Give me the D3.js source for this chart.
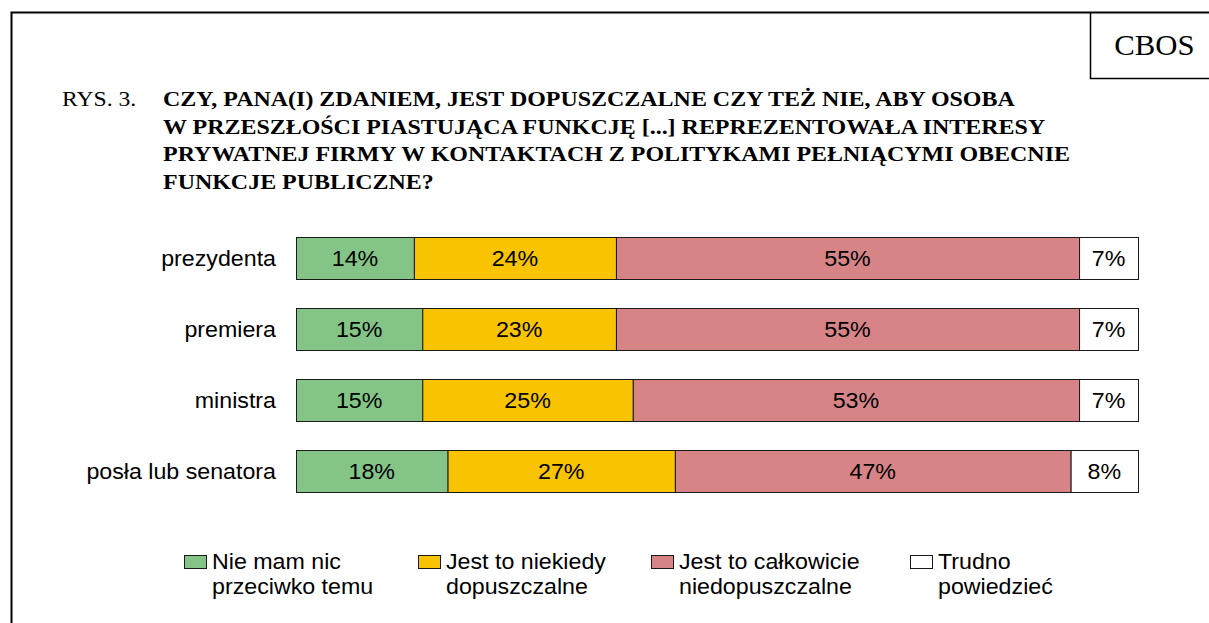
<!DOCTYPE html>
<html>
<head>
<meta charset="utf-8">
<script src="https://cdn.jsdelivr.net/npm/d3@7"></script>
<style>
  body { margin: 0; background: #fff; }
  svg { display: block; }
</style>
</head>
<body>
<svg id="body" width="1209" height="623"></svg>
<script>
let svg = d3.select("#body");

// data
let categories = ["prezydenta", "premiera", "ministra", "posła lub senatora"];
let answers = ["Nie mam nic przeciwko temu", "Jest to niekiedy dopuszczalne",
               "Jest to całkowicie niedopuszczalne", "Trudno powiedzieć"];
let legendLines = [["Nie mam nic", "przeciwko temu"], ["Jest to niekiedy", "dopuszczalne"],
                   ["Jest to całkowicie", "niedopuszczalne"], ["Trudno", "powiedzieć"]];
let nieMam = [14, 15, 15, 18];
let niekiedy = [24, 23, 25, 27];
let calkowicie = [55, 55, 53, 47];
let trudno = [7, 7, 7, 8];
let colors = ["#84c487", "#f8c300", "#d78486", "#ffffff"];

let titleLines = ["CZY, PANA(I) ZDANIEM, JEST DOPUSZCZALNE CZY TEŻ NIE, ABY OSOBA",
                  "W PRZESZŁOŚCI PIASTUJĄCA FUNKCJĘ [...] REPREZENTOWAŁA INTERESY",
                  "PRYWATNEJ FIRMY W KONTAKTACH Z POLITYKAMI PEŁNIĄCYMI OBECNIE",
                  "FUNKCJE PUBLICZNE?"];

// the original picture is a bit wider than tall, so text gets stretched
let sansFont = "Liberation Sans, Arial, sans-serif";
let serifFont = "Liberation Serif, Times New Roman, serif";
let sansSize = "21.5px", sansStretch = 1.08;
let pos = (px, py, s) => "translate(" + px + "," + py + ") scale(" + s + ",1)";

// frame
svg.append("path")
   .attr("d", "M11.5,623 V12.5 H1209")
   .attr("fill", "none").attr("stroke", "#000").attr("stroke-width", 2);
svg.append("path")
   .attr("d", "M1090.5,12 V78.5 H1209")
   .attr("fill", "none").attr("stroke", "#000").attr("stroke-width", 1.5);
svg.append("text")
   .attr("transform", pos(1154.5, 54.5, 1.06))
   .attr("text-anchor", "middle")
   .style("font-family", serifFont)
   .style("font-size", "29px")
   .text("CBOS");

// title
svg.append("text")
   .attr("transform", pos(62, 106, 1.1))
   .style("font-family", serifFont)
   .style("font-size", "21.5px")
   .text("RYS. 3.");
svg.append("g").selectAll("text")
   .data(titleLines)
   .enter()
   .append("text")
   .attr("transform", (d, i) => pos(163, 106 + i * 27.7, 1.115))
   .style("font-family", serifFont)
   .style("font-size", "21.5px")
   .style("font-weight", "bold")
   .text(d => d);

// stacked data
let rows = categories.map((c, i) => ({
  cat: c, values: [nieMam[i], niekiedy[i], calkowicie[i], trudno[i]]
}));
rows.forEach(r => {
  let acc = 0;
  r.segs = r.values.map((v, k) => {
    let s = {cat: r.cat, k: k, v: v, x0: acc, x1: acc + v};
    acc += v;
    return s;
  });
});

let x = d3.scaleLinear().domain([0, 100]).range([296, 1138]);
let y = d3.scaleBand().domain(categories).range([222.8, 506.2])
          .paddingInner(0.408).paddingOuter(0.2);

let rowG = svg.selectAll("g.row")
   .data(rows)
   .enter()
   .append("g")
   .attr("class", "row");

rowG.selectAll("rect")
   .data(d => d.segs)
   .enter()
   .append("rect")
   .attr("x", d => x(d.x0) + 0.5)
   .attr("y", d => Math.round(y(d.cat)) + 0.5)
   .attr("width", d => x(d.x1) - x(d.x0))
   .attr("height", Math.round(y.bandwidth()))
   .attr("fill", d => colors[d.k])
   .attr("stroke", "#1a1a1a")
   .attr("stroke-width", 1);

rowG.selectAll("text.val")
   .data(d => d.segs)
   .enter()
   .append("text")
   .attr("class", "val")
   .attr("transform", d => pos((x(d.x0) + x(d.x1)) / 2, y(d.cat) + y.bandwidth() / 2 + 8, sansStretch))
   .attr("text-anchor", "middle")
   .style("font-family", sansFont)
   .style("font-size", sansSize)
   .text(d => d.v + "%");

// category labels
svg.selectAll("text.cat")
   .data(categories)
   .enter()
   .append("text")
   .attr("class", "cat")
   .attr("transform", d => pos(276, y(d) + y.bandwidth() / 2 + 8, sansStretch))
   .attr("text-anchor", "end")
   .style("font-family", sansFont)
   .style("font-size", sansSize)
   .text(d => d);

// legend
let legX = [184, 418, 651, 910];
let leg = svg.selectAll("g.leg")
   .data(answers)
   .enter()
   .append("g")
   .attr("class", "leg")
   .attr("transform", (d, i) => "translate(" + legX[i] + ",0)");

leg.append("rect")
   .attr("x", 0.5).attr("y", 555.5)
   .attr("width", 22).attr("height", 13)
   .attr("fill", (d, i) => colors[i])
   .attr("stroke", "#1a1a1a");

leg.selectAll("text")
   .data((d, i) => legendLines[i])
   .enter()
   .append("text")
   .attr("transform", (d, j) => pos(28, 568.5 + j * 25.5, sansStretch))
   .style("font-family", sansFont)
   .style("font-size", sansSize)
   .text(d => d);
</script>
</body>
</html>
